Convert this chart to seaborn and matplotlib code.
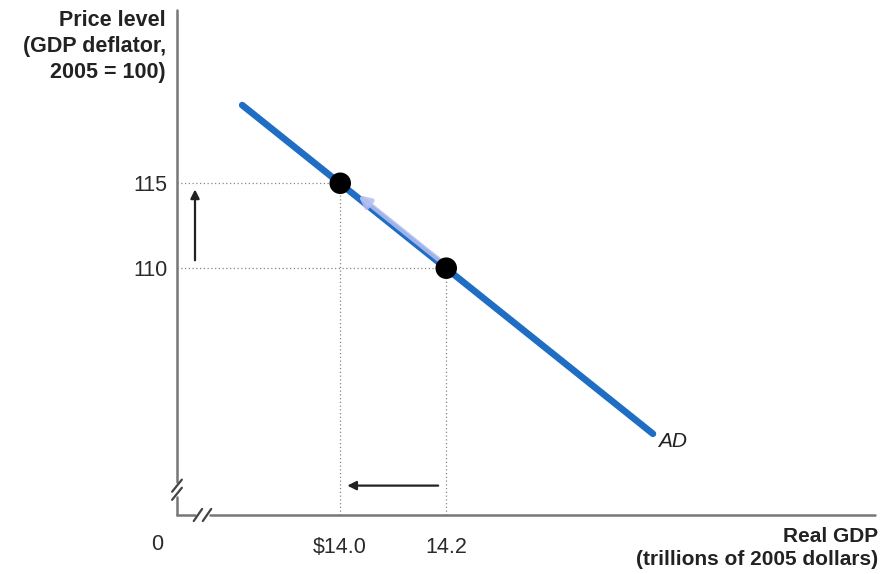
import matplotlib
matplotlib.use("Agg")
import matplotlib.pyplot as plt
import numpy as np
import pandas as pd
import seaborn as sns

# AD curve end points and the two marked equilibria
ad_gdp = [13.815, 14.59]
ad_price = [119.6, 100.25]
pt_gdp = [14.0, 14.2]
pt_price = [115, 110]
xtick_vals = [14.0, 14.2]
xtick_labels = ["$14.0", "14.2"]
ytick_vals = [110, 115]
ytick_labels = ["110", "115"]

sns.set_theme(style="white")
plt.rcParams['font.family'] = ['Liberation Sans', 'DejaVu Sans']

fig = plt.figure(figsize=(8.88, 5.74), dpi=100)
ax = fig.add_axes([0.1993, 0.1028, 0.7861, 0.8798])
xmin, xmax = 13.692, 15.009
ymin, ymax = 95.47, 125.2
ax.set_xlim(xmin, xmax)
ax.set_ylim(ymin, ymax)

ad = pd.DataFrame({"gdp": ad_gdp, "price": ad_price})
pts = pd.DataFrame({"gdp": pt_gdp, "price": pt_price})

# dotted guides
for gx, py in zip(pt_gdp, pt_price):
    ax.plot([xmin, gx], [py, py], ls=(0, (1, 2)), color="#888888", lw=0.9)
    ax.plot([gx, gx], [ymin, py], ls=(0, (1, 2)), color="#888888", lw=0.9)

sns.lineplot(data=ad, x="gdp", y="price", color="#1f6ec3", lw=4.8,
             solid_capstyle="round", ax=ax)

# faint arrow along the curve
ax.annotate("", xy=(14.03, 114.4), xytext=(14.19, 110.4),
            arrowprops=dict(arrowstyle="-|>", color="#b4c0f0", lw=3.5,
                            mutation_scale=16, alpha=0.85))

sns.scatterplot(data=pts, x="gdp", y="price", color="black", s=240,
                edgecolor="none", zorder=5, ax=ax)

# movement arrows
ax.annotate("", xy=(13.726, 114.8), xytext=(13.726, 110.3),
            arrowprops=dict(arrowstyle="-|>", color="#222222", lw=1.6,
                            mutation_scale=13))
ax.annotate("", xy=(14.008, 97.2), xytext=(14.19, 97.2),
            arrowprops=dict(arrowstyle="-|>", color="#222222", lw=1.6,
                            mutation_scale=13))

ax.text(14.6, 99.8, "AD", fontsize=15, style="italic", va="center",
        ha="left", color="#222222")

# axes with break marks
for s in ax.spines.values():
    s.set_visible(False)
axc = "#777777"
ax.plot([0, 0], [1, 0.065], color=axc, lw=1.8, transform=ax.transAxes, clip_on=False)
ax.plot([0, 0], [0.036, 0], color=axc, lw=1.8, transform=ax.transAxes, clip_on=False)
ax.plot([0, 0.026], [0, 0], color=axc, lw=1.8, transform=ax.transAxes, clip_on=False)
ax.plot([0.048, 1], [0, 0], color=axc, lw=1.8, transform=ax.transAxes, clip_on=False)
for yb in [0.058, 0.042]:
    ax.plot([-0.007, 0.007], [yb - 0.012, yb + 0.012], color="#444444", lw=1.6,
            transform=ax.transAxes, clip_on=False)
for xb in [0.030, 0.043]:
    ax.plot([xb - 0.006, xb + 0.006], [-0.012, 0.012], color="#444444", lw=1.6,
            transform=ax.transAxes, clip_on=False)

ax.set_xticks(xtick_vals)
ax.set_xticklabels(xtick_labels)
ax.set_yticks(ytick_vals)
ax.set_yticklabels(ytick_labels)
ax.tick_params(length=0, labelsize=15.5, colors="#2a2a2a")
ax.tick_params(axis="x", pad=16)
ax.tick_params(axis="y", pad=7)
ax.set_xlabel("")
ax.set_ylabel("")

fig.text(157 / 888, 1 - 545 / 574, "0", fontsize=15.5, ha="center", va="center",
         color="#2a2a2a")
fig.text(166 / 888, 1 - 10 / 574, "Price level\n(GDP deflator,\n2005 = 100)",
         fontsize=15.5, fontweight="bold", ha="right", va="top", color="#222222",
         linespacing=1.3)
fig.text(878 / 888, 1 - 527 / 574, "Real GDP\n(trillions of 2005 dollars)",
         fontsize=15, fontweight="bold", ha="right", va="top", color="#222222",
         linespacing=1.25)

fig.savefig("out.png", dpi=100, facecolor="white")
